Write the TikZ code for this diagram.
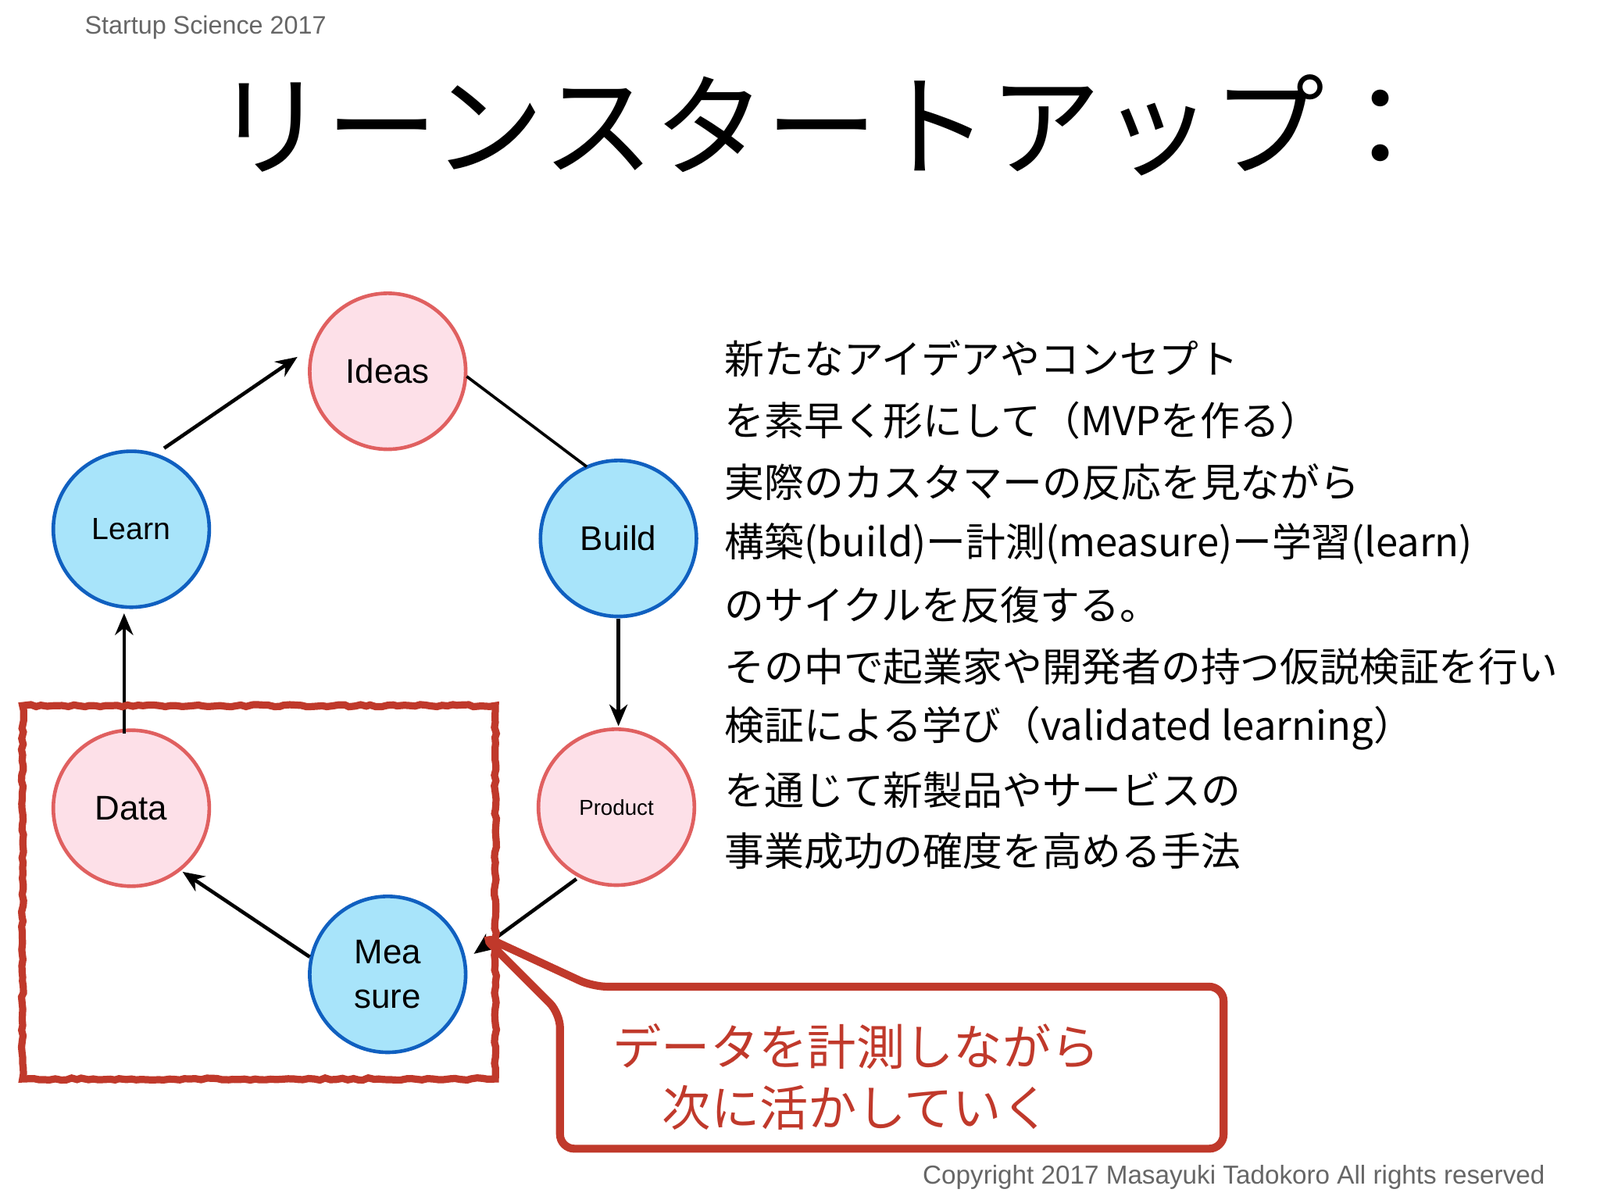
\documentclass[tikz,border=0pt]{standalone}
\usepackage{fontspec}
\setmainfont{Liberation Sans}
\newfontfamily\jp{Noto Sans CJK JP}
\usetikzlibrary{arrows.meta,decorations.pathmorphing}
\definecolor{pinkf}{HTML}{FDE0E8}
\definecolor{pinkd}{HTML}{E06060}
\definecolor{bluef}{HTML}{A8E4FA}
\definecolor{blued}{HTML}{1060C0}
\definecolor{redc}{HTML}{C0392B}
\tikzset{
 pnode/.style={circle,draw=pinkd,fill=pinkf,line width=1pt,minimum size=1.52cm,inner sep=0pt,align=center},
 bnode/.style={circle,draw=blued,fill=bluef,line width=1pt,minimum size=1.52cm,inner sep=0pt,align=center},
 arr/.style={line width=1pt,-{Stealth[length=6pt,width=5pt]}},
 jt/.style={anchor=west,font=\jp\fontsize{11}{12}\selectfont,inner sep=0pt}
}
\begin{document}
\begin{tikzpicture}[x=0.01cm,y=-0.01cm]
\useasboundingbox (0,0) rectangle (1560,1170);
\fill[white] (0,0) rectangle (1560,1170);
\node[anchor=west,text=gray!80!black,font=\fontsize{7}{8}\selectfont,inner sep=0pt] (hdr) at (82,27) {Startup Science 2017};
\node[font=\jp\fontsize{31}{34}\selectfont] (title) at (805,122) {リーンスタートアップ：};
\node[pnode,font=\fontsize{9.5}{11}\selectfont] (ideas) at (378,362) {Ideas};
\node[bnode,font=\fontsize{8.5}{10}\selectfont] (learn) at (128,516) {Learn};
\node[bnode,font=\fontsize{9.5}{11}\selectfont] (build) at (603,525) {Build};
\node[pnode,font=\fontsize{6}{7}\selectfont] (product) at (601,787) {Product};
\node[pnode,font=\fontsize{9.5}{11}\selectfont] (data) at (128,788) {Data};
\node[bnode,font=\fontsize{9.5}{12.5}\selectfont] (measure) at (378,950) {Mea\\sure};
\coordinate (a1) at (160,437); \coordinate (a2) at (290,348);
\draw[arr] (a1) -- (a2);
\coordinate (i1) at (455,367); \coordinate (i2) at (572,455);
\draw[line width=0.8pt] (i1) -- (i2);
\coordinate (p1) at (603,603); \coordinate (p2) at (603,708);
\draw[arr] (p1) -- (p2);
\coordinate (b1) at (562,857); \coordinate (b2) at (462,930);
\draw[arr] (b1) -- (b2);
\coordinate (c1) at (302,933); \coordinate (c2) at (178,850);
\draw[arr] (c1) -- (c2);
\coordinate (d1) at (121,715); \coordinate (d2) at (121,598);
\draw[arr] (d1) -- (d2);
\draw[redc,line width=2pt,decorate,decoration={random steps,segment length=1.5pt,amplitude=0.3pt}] (22,688) rectangle (483,1052);
\draw[redc,line width=2.2pt,rounded corners=4pt] (578,962) -- (1193,962) -- (1193,1120) -- (546,1120) -- (546,988) -- (470,912) -- cycle;
\node[text=redc,font=\jp\fontsize{13.5}{17}\selectfont,align=center] (call) at (835,1050) {データを計測しながら\\次に活かしていく};
\node[jt] (t1) at (706,350) {新たなアイデアやコンセプト};
\node[jt] (t2) at (706,410) {を素早く形にして（MVPを作る）};
\node[jt] (t3) at (706,470) {実際のカスタマーの反応を見ながら};
\node[jt] (t4) at (706,530) {構築(build)ー計測(measure)ー学習(learn)};
\node[jt] (t5) at (706,590) {のサイクルを反復する。};
\node[jt] (t6) at (706,650) {その中で起業家や開発者の持つ仮説検証を行い};
\node[jt] (t7) at (706,710) {検証による学び（validated learning）};
\node[jt] (t8) at (706,770) {を通じて新製品やサービスの};
\node[jt] (t9) at (706,830) {事業成功の確度を高める手法};
\node[anchor=east,text=gray!80!black,font=\fontsize{7.2}{8}\selectfont,inner sep=0pt] (copy) at (1507,1148) {Copyright 2017 Masayuki Tadokoro All rights reserved};
\end{tikzpicture}
\end{document}
